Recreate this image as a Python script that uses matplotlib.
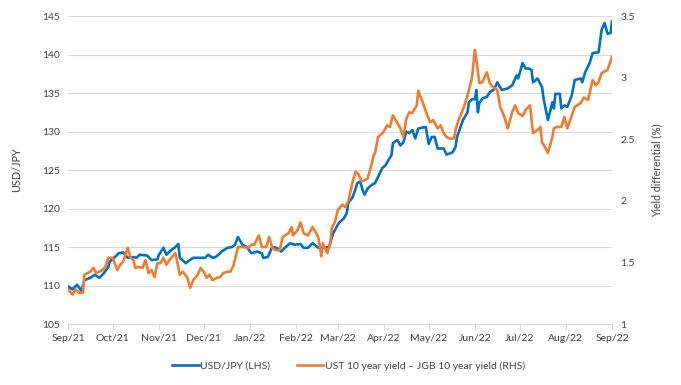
import numpy as np
import pandas as pd
import matplotlib
matplotlib.use("Agg")
import matplotlib.pyplot as plt
import matplotlib.dates as mdates

# ---------------- Data ----------------
start = pd.Timestamp("2021-09-01")

# USD/JPY, day offsets from 1 Sep 2021
usd_days = [0, 3, 6, 9, 11, 15, 18, 21, 24, 27, 28, 32, 34, 37, 40, 44, 46, 48, 53, 56,
            60, 61, 64, 66, 68, 72, 74, 75, 79, 81, 84, 87, 90, 92, 94, 97, 99, 101, 103, 107,
            110, 112, 114, 117, 120, 123, 127, 130, 131, 134, 137, 140, 143, 146, 149, 152, 156, 158, 161, 164,
            168, 171, 175, 178, 181, 182, 185, 187, 188, 191, 193, 194, 196, 198, 199, 201, 204, 206, 208, 211,
            213, 215, 217, 218, 221, 223, 225, 227, 229, 231, 233, 235, 240, 242, 244, 246, 248, 252, 254, 258,
            260, 261, 263, 265, 268, 269, 271, 273, 274, 275, 276, 278, 281, 283, 286, 288, 291, 295, 298, 301,
            302, 305, 307, 309, 311, 312, 315, 318, 319, 321, 322, 325, 326, 327, 330, 331, 333, 335, 338, 340,
            344, 345, 347, 350, 352, 356, 358, 360, 362, 364, 365]
usd_jpy = [109.9, 109.5, 110.1, 109.3, 110.7, 111.0, 111.4, 111.0, 111.6, 112.4, 113.1, 113.8, 114.2, 114.3, 113.6, 113.7, 113.6, 114.0, 113.9, 113.3,
           113.4, 114.0, 114.9, 114.0, 114.4, 115.0, 115.4, 113.6, 112.9, 113.2, 113.6, 113.6, 113.6, 113.6, 114.0, 113.6, 113.7, 114.0, 114.4, 114.9,
           115.0, 115.3, 116.3, 115.3, 115.0, 114.2, 114.4, 114.2, 113.6, 113.7, 115.0, 114.9, 114.4, 115.0, 115.5, 115.3, 115.4, 114.9, 114.9, 115.5,
           114.9, 114.9, 115.0, 116.8, 117.9, 118.2, 118.7, 119.4, 120.7, 121.5, 122.6, 123.3, 123.5, 122.2, 121.8, 122.6, 123.1, 123.3, 124.1, 125.3,
           125.6, 126.3, 126.9, 128.5, 128.9, 128.2, 128.6, 130.0, 129.8, 130.2, 129.1, 130.4, 130.6, 128.4, 129.3, 129.3, 127.8, 127.8, 127.0, 127.3,
           128.0, 129.3, 130.4, 131.5, 132.5, 133.8, 134.2, 134.2, 135.4, 132.5, 133.7, 134.3, 134.5, 135.1, 135.5, 136.4, 135.4, 135.6, 136.0, 137.3,
           136.9, 138.9, 138.2, 138.2, 138.0, 136.4, 136.9, 135.8, 134.4, 132.4, 131.5, 133.8, 133.0, 134.9, 134.9, 133.0, 133.4, 133.2, 134.7, 136.7,
           136.9, 136.4, 137.7, 138.9, 140.2, 140.3, 143.2, 144.1, 142.7, 142.8, 144.3]

# UST 10y - JGB 10y yield differential (%), day offsets from 1 Sep 2021
yld_days = [0, 3, 5, 8, 10, 11, 15, 17, 19, 23, 25, 27, 30, 33, 35, 37, 40, 42, 44, 45,
            47, 50, 52, 54, 56, 58, 60, 62, 64, 66, 68, 72, 73, 75, 77, 80, 82, 84, 87, 89,
            91, 93, 95, 97, 100, 102, 104, 107, 109, 111, 113, 114, 117, 121, 123, 125, 128, 130, 133, 135,
            137, 139, 142, 144, 148, 150, 151, 154, 156, 158, 161, 164, 166, 168, 170, 171, 174, 176, 177, 179,
            181, 184, 186, 188, 191, 193, 195, 197, 199, 201, 204, 205, 206, 208, 211, 213, 214, 216, 218, 221,
            223, 225, 227, 229, 231, 234, 235, 238, 241, 243, 245, 248, 250, 252, 254, 256, 259, 260, 262, 264,
            266, 268, 271, 273, 274, 276, 278, 281, 283, 285, 288, 290, 293, 295, 298, 300, 302, 305, 307, 310,
            312, 315, 317, 318, 320, 322, 325, 326, 328, 331, 333, 335, 338, 340, 344, 346, 349, 352, 354, 356,
            358, 362, 365]
yld_diff = [1.281, 1.238, 1.281, 1.25, 1.256, 1.40, 1.425, 1.456, 1.413, 1.438, 1.463, 1.538, 1.538, 1.438, 1.481, 1.506, 1.619, 1.538, 1.519, 1.456,
            1.463, 1.456, 1.519, 1.413, 1.438, 1.381, 1.494, 1.494, 1.538, 1.481, 1.519, 1.575, 1.519, 1.40, 1.425, 1.375, 1.294, 1.356, 1.40, 1.456,
            1.425, 1.375, 1.40, 1.356, 1.375, 1.381, 1.413, 1.425, 1.425, 1.475, 1.575, 1.625, 1.625, 1.619, 1.644, 1.644, 1.719, 1.625, 1.625, 1.706,
            1.619, 1.60, 1.60, 1.706, 1.738, 1.788, 1.719, 1.763, 1.825, 1.738, 1.719, 1.788, 1.75, 1.70, 1.55, 1.656, 1.575, 1.656, 1.781, 1.825,
            1.925, 1.969, 1.95, 1.994, 2.156, 2.238, 2.213, 2.156, 2.169, 2.181, 2.313, 2.369, 2.388, 2.519, 2.55, 2.588, 2.613, 2.60, 2.694, 2.631,
            2.588, 2.519, 2.669, 2.719, 2.713, 2.775, 2.894, 2.80, 2.694, 2.638, 2.656, 2.588, 2.613, 2.55, 2.519, 2.506, 2.506, 2.575, 2.656, 2.713,
            2.775, 2.856, 2.994, 3.225, 3.144, 2.956, 2.963, 3.044, 2.956, 2.925, 2.90, 2.763, 2.675, 2.588, 2.719, 2.775, 2.713, 2.688, 2.738, 2.775,
            2.55, 2.575, 2.60, 2.475, 2.438, 2.388, 2.519, 2.588, 2.60, 2.60, 2.681, 2.588, 2.694, 2.763, 2.794, 2.838, 2.819, 2.981, 2.938, 2.963,
            3.038, 3.063, 3.169]

usd_dates = start + pd.to_timedelta(usd_days, unit="D")
yld_dates = start + pd.to_timedelta(yld_days, unit="D")

blue = "#0070C0"
orange = "#ED7D31"
grid_grey = "#D9D9D9"
text_grey = "#404040"

plt.rcParams["font.family"] = ["Lato", "DejaVu Sans"]

# ---------------- Plot ----------------
fig = plt.figure(figsize=(6.81, 3.85), dpi=100)
ax = fig.add_axes([0.0999, 0.1584, 0.7988, 0.7998])
ax2 = ax.twinx()

l1, = ax.plot(usd_dates, usd_jpy, color=blue, lw=1.9, solid_joinstyle="round", zorder=3)
l2, = ax2.plot(yld_dates, yld_diff, color=orange, lw=1.9, solid_joinstyle="round", zorder=3)

ax.set_ylim(105, 145)
ax.set_yticks(np.arange(105, 146, 5))
ax2.set_ylim(1, 3.5)
ax2.set_yticks([1, 1.5, 2, 2.5, 3, 3.5])
ax2.set_yticklabels(["1", "1.5", "2", "2.5", "3", "3.5"])

ax.set_xlim(pd.Timestamp("2021-09-01"), pd.Timestamp("2022-09-01"))
ax.xaxis.set_major_locator(mdates.MonthLocator())
ax.xaxis.set_major_formatter(mdates.DateFormatter("%b/%y"))

ax.grid(axis="y", color=grid_grey, lw=0.8)
ax.set_axisbelow(True)
for a in (ax, ax2):
    for s in ("top", "left", "right"):
        a.spines[s].set_visible(False)
    a.spines["bottom"].set_color(grid_grey)
    a.tick_params(axis="y", length=0, labelsize=7.5, labelcolor=text_grey, pad=6)
ax.tick_params(axis="x", length=4, color=grid_grey, labelsize=7.5, labelcolor=text_grey, pad=3)

ax.set_ylabel("USD/JPY", fontsize=7.8, color=text_grey, labelpad=14)
ax2.set_ylabel("Yield differential (%)", fontsize=7.6, color=text_grey, labelpad=12)

fig.legend([l1, l2], ["USD/JPY (LHS)", "UST 10 year yield \u2013 JGB 10 year yield (RHS)"],
           loc="center", bbox_to_anchor=(0.512, 0.05), ncol=2, frameon=False,
           fontsize=7.5, labelcolor=text_grey, handlelength=2.5, handletextpad=0.15,
           columnspacing=2.6)

fig.savefig("out.png", dpi=100)
